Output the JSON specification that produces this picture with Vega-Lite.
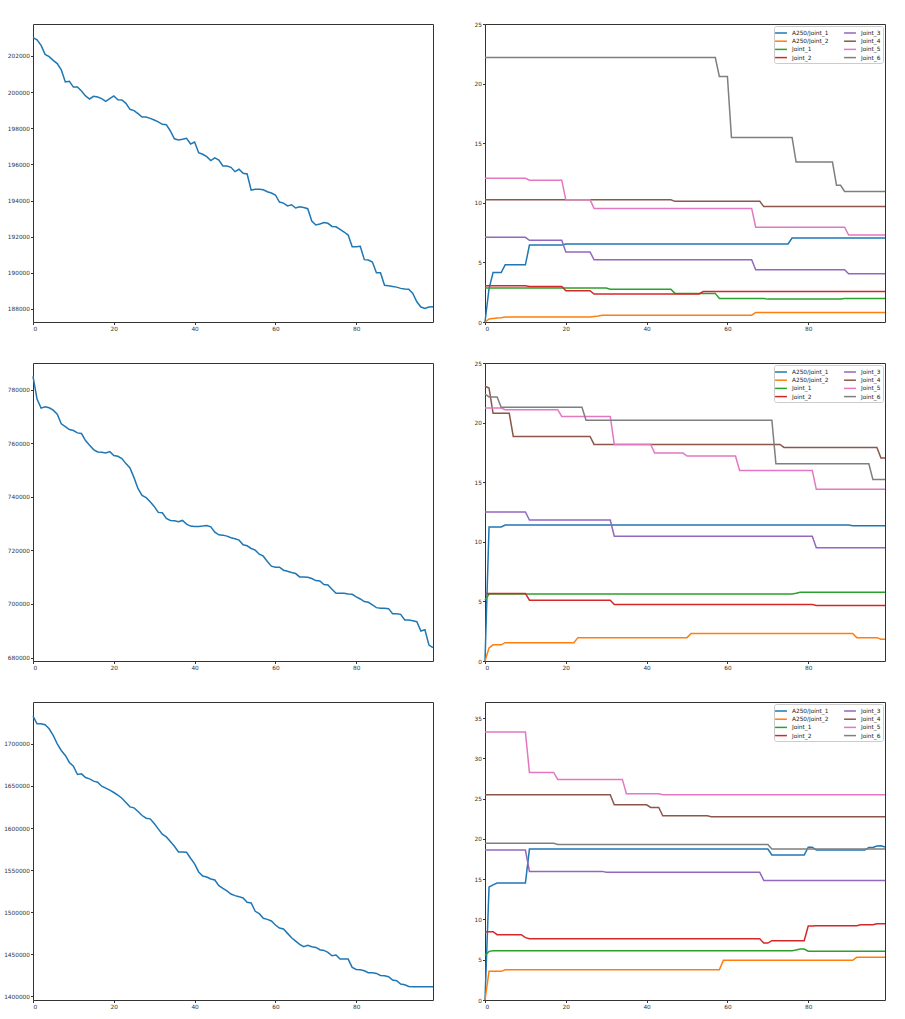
{
"$schema": "https://vega.github.io/schema/vega-lite/v6.json",
"padding": {"left": 3, "top": 20, "right": 5, "bottom": 5},
"background": "white",
"bounds": "flush",
"columns": 2,
"spacing": {"row": 41, "column": 52},
"resolve": {"scale": {"color": "independent"}, "legend": {"color": "independent"}},
"config": {
  "font": "DejaVu Sans",
  "view": {"stroke": "#333", "strokeWidth": 1},
  "axis": {"grid": false, "domain": false, "tickColor": "#333", "tickSize": 2.5, "labelFontSize": 5.8, "labelColor": "#333", "labelPadding": 1, "title": null, "labelFont": "DejaVu Sans"},
  "legend": {"orient": "top-right", "offset": 2, "columns": 2, "title": null, "fillColor": "white", "strokeColor": "#cccccc", "cornerRadius": 2, "padding": 2, "labelFontSize": 5.8, "labelFont": "DejaVu Sans", "labelColor": "#222", "symbolType": "M-1.4,0H1.4", "symbolSize": 72, "symbolStrokeWidth": 1.5, "labelOffset": 6, "rowPadding": 0.2, "columnPadding": 12}
},
"datasets": {
"loss": [
{"run":1,"step":0,"value":203020},{"run":1,"step":1,"value":202890},{"run":1,"step":2,"value":202590},{"run":1,"step":3,"value":202090},{"run":1,"step":4,"value":201960},{"run":1,"step":5,"value":201760},{"run":1,"step":6,"value":201580},{"run":1,"step":7,"value":201230},{"run":1,"step":8,"value":200560},{"run":1,"step":9,"value":200600},
{"run":1,"step":10,"value":200280},{"run":1,"step":11,"value":200280},{"run":1,"step":12,"value":200060},{"run":1,"step":13,"value":199790},{"run":1,"step":14,"value":199620},{"run":1,"step":15,"value":199770},{"run":1,"step":16,"value":199730},{"run":1,"step":17,"value":199640},{"run":1,"step":18,"value":199490},{"run":1,"step":19,"value":199640},
{"run":1,"step":20,"value":199790},{"run":1,"step":21,"value":199580},{"run":1,"step":22,"value":199570},{"run":1,"step":23,"value":199380},{"run":1,"step":24,"value":199050},{"run":1,"step":25,"value":198980},{"run":1,"step":26,"value":198810},{"run":1,"step":27,"value":198620},{"run":1,"step":28,"value":198620},{"run":1,"step":29,"value":198550},
{"run":1,"step":30,"value":198460},{"run":1,"step":31,"value":198350},{"run":1,"step":32,"value":198220},{"run":1,"step":33,"value":198200},{"run":1,"step":34,"value":197850},{"run":1,"step":35,"value":197420},{"run":1,"step":36,"value":197350},{"run":1,"step":37,"value":197390},{"run":1,"step":38,"value":197440},{"run":1,"step":39,"value":197130},
{"run":1,"step":40,"value":197240},{"run":1,"step":41,"value":196650},{"run":1,"step":42,"value":196560},{"run":1,"step":43,"value":196430},{"run":1,"step":44,"value":196210},{"run":1,"step":45,"value":196360},{"run":1,"step":46,"value":196240},{"run":1,"step":47,"value":195910},{"run":1,"step":48,"value":195910},{"run":1,"step":49,"value":195840},
{"run":1,"step":50,"value":195600},{"run":1,"step":51,"value":195730},{"run":1,"step":52,"value":195510},{"run":1,"step":53,"value":195470},{"run":1,"step":54,"value":194580},{"run":1,"step":55,"value":194620},{"run":1,"step":56,"value":194620},{"run":1,"step":57,"value":194600},{"run":1,"step":58,"value":194490},{"run":1,"step":59,"value":194420},
{"run":1,"step":60,"value":194310},{"run":1,"step":61,"value":193920},{"run":1,"step":62,"value":193860},{"run":1,"step":63,"value":193700},{"run":1,"step":64,"value":193770},{"run":1,"step":65,"value":193590},{"run":1,"step":66,"value":193660},{"run":1,"step":67,"value":193620},{"run":1,"step":68,"value":193550},{"run":1,"step":69,"value":192870},
{"run":1,"step":70,"value":192650},{"run":1,"step":71,"value":192700},{"run":1,"step":72,"value":192780},{"run":1,"step":73,"value":192740},{"run":1,"step":74,"value":192570},{"run":1,"step":75,"value":192550},{"run":1,"step":76,"value":192410},{"run":1,"step":77,"value":192260},{"run":1,"step":78,"value":192090},{"run":1,"step":79,"value":191450},
{"run":1,"step":80,"value":191450},{"run":1,"step":81,"value":191470},{"run":1,"step":82,"value":190730},{"run":1,"step":83,"value":190710},{"run":1,"step":84,"value":190600},{"run":1,"step":85,"value":190010},{"run":1,"step":86,"value":190010},{"run":1,"step":87,"value":189310},{"run":1,"step":88,"value":189290},{"run":1,"step":89,"value":189250},
{"run":1,"step":90,"value":189210},{"run":1,"step":91,"value":189140},{"run":1,"step":92,"value":189100},{"run":1,"step":93,"value":189090},{"run":1,"step":94,"value":188860},{"run":1,"step":95,"value":188400},{"run":1,"step":96,"value":188110},{"run":1,"step":97,"value":188030},{"run":1,"step":98,"value":188110},{"run":1,"step":99,"value":188130},
{"run":2,"step":0,"value":785000},{"run":2,"step":1,"value":776500},{"run":2,"step":2,"value":773140},{"run":2,"step":3,"value":773640},{"run":2,"step":4,"value":773260},{"run":2,"step":5,"value":772390},{"run":2,"step":6,"value":770890},{"run":2,"step":7,"value":767270},{"run":2,"step":8,"value":766270},{"run":2,"step":9,"value":765150},
{"run":2,"step":10,"value":764770},{"run":2,"step":11,"value":763900},{"run":2,"step":12,"value":763650},{"run":2,"step":13,"value":761030},{"run":2,"step":14,"value":759280},{"run":2,"step":15,"value":757660},{"run":2,"step":16,"value":756790},{"run":2,"step":17,"value":756660},{"run":2,"step":18,"value":756410},{"run":2,"step":19,"value":756910},
{"run":2,"step":20,"value":755410},{"run":2,"step":21,"value":755160},{"run":2,"step":22,"value":754290},{"run":2,"step":23,"value":752420},{"run":2,"step":24,"value":750800},{"run":2,"step":25,"value":747180},{"run":2,"step":26,"value":743060},{"run":2,"step":27,"value":740560},{"run":2,"step":28,"value":739690},{"run":2,"step":29,"value":738190},
{"run":2,"step":30,"value":736440},{"run":2,"step":31,"value":734200},{"run":2,"step":32,"value":734070},{"run":2,"step":33,"value":731950},{"run":2,"step":34,"value":731200},{"run":2,"step":35,"value":731080},{"run":2,"step":36,"value":730700},{"run":2,"step":37,"value":731200},{"run":2,"step":38,"value":729830},{"run":2,"step":39,"value":729080},
{"run":2,"step":40,"value":728960},{"run":2,"step":41,"value":728960},{"run":2,"step":42,"value":729080},{"run":2,"step":43,"value":729330},{"run":2,"step":44,"value":728830},{"run":2,"step":45,"value":726840},{"run":2,"step":46,"value":725840},{"run":2,"step":47,"value":725710},{"run":2,"step":48,"value":725340},{"run":2,"step":49,"value":724710},
{"run":2,"step":50,"value":724340},{"run":2,"step":51,"value":723840},{"run":2,"step":52,"value":722090},{"run":2,"step":53,"value":721720},{"run":2,"step":54,"value":720720},{"run":2,"step":55,"value":720100},{"run":2,"step":56,"value":718600},{"run":2,"step":57,"value":717850},{"run":2,"step":58,"value":715850},{"run":2,"step":59,"value":714110},
{"run":2,"step":60,"value":713730},{"run":2,"step":61,"value":713730},{"run":2,"step":62,"value":712610},{"run":2,"step":63,"value":712230},{"run":2,"step":64,"value":711740},{"run":2,"step":65,"value":711360},{"run":2,"step":66,"value":710110},{"run":2,"step":67,"value":710110},{"run":2,"step":68,"value":709990},{"run":2,"step":69,"value":709490},
{"run":2,"step":70,"value":708740},{"run":2,"step":71,"value":708610},{"run":2,"step":72,"value":707240},{"run":2,"step":73,"value":707120},{"run":2,"step":74,"value":705500},{"run":2,"step":75,"value":704000},{"run":2,"step":76,"value":704000},{"run":2,"step":77,"value":704000},{"run":2,"step":78,"value":703750},{"run":2,"step":79,"value":703620},
{"run":2,"step":80,"value":702620},{"run":2,"step":81,"value":701870},{"run":2,"step":82,"value":700880},{"run":2,"step":83,"value":700630},{"run":2,"step":84,"value":699630},{"run":2,"step":85,"value":698630},{"run":2,"step":86,"value":698380},{"run":2,"step":87,"value":698380},{"run":2,"step":88,"value":698260},{"run":2,"step":89,"value":696380},
{"run":2,"step":90,"value":696380},{"run":2,"step":91,"value":696130},{"run":2,"step":92,"value":694010},{"run":2,"step":93,"value":694010},{"run":2,"step":94,"value":693760},{"run":2,"step":95,"value":693390},{"run":2,"step":96,"value":689890},{"run":2,"step":97,"value":690390},{"run":2,"step":98,"value":684650},{"run":2,"step":99,"value":683650},
{"run":3,"step":0,"value":1732900},{"run":3,"step":1,"value":1723780},{"run":3,"step":2,"value":1723780},{"run":3,"step":3,"value":1722590},{"run":3,"step":4,"value":1717830},{"run":3,"step":5,"value":1709900},{"run":3,"step":6,"value":1700000},{"run":3,"step":7,"value":1692070},{"run":3,"step":8,"value":1686130},{"run":3,"step":9,"value":1677810},
{"run":3,"step":10,"value":1673450},{"run":3,"step":11,"value":1663540},{"run":3,"step":12,"value":1664330},{"run":3,"step":13,"value":1659970},{"run":3,"step":14,"value":1658390},{"run":3,"step":15,"value":1655610},{"run":3,"step":16,"value":1654430},{"run":3,"step":17,"value":1649670},{"run":3,"step":18,"value":1647290},{"run":3,"step":19,"value":1644910},
{"run":3,"step":20,"value":1642140},{"run":3,"step":21,"value":1638970},{"run":3,"step":22,"value":1635400},{"run":3,"step":23,"value":1630250},{"run":3,"step":24,"value":1625100},{"run":3,"step":25,"value":1623910},{"run":3,"step":26,"value":1619550},{"run":3,"step":27,"value":1614800},{"run":3,"step":28,"value":1611630},{"run":3,"step":29,"value":1610830},
{"run":3,"step":30,"value":1605280},{"run":3,"step":31,"value":1598940},{"run":3,"step":32,"value":1592600},{"run":3,"step":33,"value":1589430},{"run":3,"step":34,"value":1583890},{"run":3,"step":35,"value":1578340},{"run":3,"step":36,"value":1571600},{"run":3,"step":37,"value":1571600},{"run":3,"step":38,"value":1571200},{"run":3,"step":39,"value":1564080},
{"run":3,"step":40,"value":1557340},{"run":3,"step":41,"value":1547830},{"run":3,"step":42,"value":1543070},{"run":3,"step":43,"value":1541880},{"run":3,"step":44,"value":1539500},{"run":3,"step":45,"value":1538320},{"run":3,"step":46,"value":1531580},{"run":3,"step":47,"value":1528410},{"run":3,"step":48,"value":1525240},{"run":3,"step":49,"value":1521670},
{"run":3,"step":50,"value":1519690},{"run":3,"step":51,"value":1518500},{"run":3,"step":52,"value":1516920},{"run":3,"step":53,"value":1511770},{"run":3,"step":54,"value":1510980},{"run":3,"step":55,"value":1501070},{"run":3,"step":56,"value":1498300},{"run":3,"step":57,"value":1492750},{"run":3,"step":58,"value":1491560},{"run":3,"step":59,"value":1489580},
{"run":3,"step":60,"value":1484810},{"run":3,"step":61,"value":1481250},{"run":3,"step":62,"value":1480060},{"run":3,"step":63,"value":1474900},{"run":3,"step":64,"value":1469750},{"run":3,"step":65,"value":1465790},{"run":3,"step":66,"value":1461830},{"run":3,"step":67,"value":1459050},{"run":3,"step":68,"value":1460640},{"run":3,"step":69,"value":1459050},
{"run":3,"step":70,"value":1458260},{"run":3,"step":71,"value":1455490},{"run":3,"step":72,"value":1454700},{"run":3,"step":73,"value":1452320},{"run":3,"step":74,"value":1448360},{"run":3,"step":75,"value":1449150},{"run":3,"step":76,"value":1444390},{"run":3,"step":77,"value":1444390},{"run":3,"step":78,"value":1444390},{"run":3,"step":79,"value":1434480},
{"run":3,"step":80,"value":1432110},{"run":3,"step":81,"value":1431710},{"run":3,"step":82,"value":1430520},{"run":3,"step":83,"value":1428140},{"run":3,"step":84,"value":1428140},{"run":3,"step":85,"value":1427350},{"run":3,"step":86,"value":1424970},{"run":3,"step":87,"value":1424580},{"run":3,"step":88,"value":1423390},{"run":3,"step":89,"value":1419430},
{"run":3,"step":90,"value":1418640},{"run":3,"step":91,"value":1414670},{"run":3,"step":92,"value":1413880},{"run":3,"step":93,"value":1411900},{"run":3,"step":94,"value":1411500},{"run":3,"step":95,"value":1411500},{"run":3,"step":96,"value":1411500},{"run":3,"step":97,"value":1411500},{"run":3,"step":98,"value":1411500},{"run":3,"step":99,"value":1411500}
],
"joints": [
{"run":1,"joint":"A250/Joint_1","step":0,"value":0},{"run":1,"joint":"A250/Joint_1","step":1,"value":2.8},{"run":1,"joint":"A250/Joint_1","step":2,"value":4.15},{"run":1,"joint":"A250/Joint_1","step":4,"value":4.15},{"run":1,"joint":"A250/Joint_1","step":5,"value":4.8},{"run":1,"joint":"A250/Joint_1","step":10,"value":4.8},{"run":1,"joint":"A250/Joint_1","step":11,"value":6.45},{"run":1,"joint":"A250/Joint_1","step":19,"value":6.45},{"run":1,"joint":"A250/Joint_1","step":20,"value":6.55},{"run":1,"joint":"A250/Joint_1","step":75,"value":6.55},{"run":1,"joint":"A250/Joint_1","step":76,"value":7.05},{"run":1,"joint":"A250/Joint_1","step":99,"value":7.05},
{"run":1,"joint":"A250/Joint_2","step":0,"value":0},{"run":1,"joint":"A250/Joint_2","step":1,"value":0.25},{"run":1,"joint":"A250/Joint_2","step":2,"value":0.3},{"run":1,"joint":"A250/Joint_2","step":3,"value":0.33},{"run":1,"joint":"A250/Joint_2","step":4,"value":0.35},{"run":1,"joint":"A250/Joint_2","step":5,"value":0.42},{"run":1,"joint":"A250/Joint_2","step":26,"value":0.42},{"run":1,"joint":"A250/Joint_2","step":27,"value":0.47},{"run":1,"joint":"A250/Joint_2","step":28,"value":0.5},{"run":1,"joint":"A250/Joint_2","step":29,"value":0.57},{"run":1,"joint":"A250/Joint_2","step":66,"value":0.57},{"run":1,"joint":"A250/Joint_2","step":67,"value":0.8},{"run":1,"joint":"A250/Joint_2","step":99,"value":0.8},
{"run":1,"joint":"Joint_1","step":0,"value":2.85},{"run":1,"joint":"Joint_1","step":30,"value":2.85},{"run":1,"joint":"Joint_1","step":31,"value":2.75},{"run":1,"joint":"Joint_1","step":46,"value":2.75},{"run":1,"joint":"Joint_1","step":47,"value":2.4},{"run":1,"joint":"Joint_1","step":57,"value":2.4},{"run":1,"joint":"Joint_1","step":58,"value":1.98},{"run":1,"joint":"Joint_1","step":69,"value":1.98},{"run":1,"joint":"Joint_1","step":70,"value":1.92},{"run":1,"joint":"Joint_1","step":88,"value":1.92},{"run":1,"joint":"Joint_1","step":89,"value":1.97},{"run":1,"joint":"Joint_1","step":99,"value":1.97},
{"run":1,"joint":"Joint_2","step":0,"value":3.05},{"run":1,"joint":"Joint_2","step":10,"value":3.05},{"run":1,"joint":"Joint_2","step":11,"value":2.98},{"run":1,"joint":"Joint_2","step":19,"value":2.98},{"run":1,"joint":"Joint_2","step":20,"value":2.63},{"run":1,"joint":"Joint_2","step":26,"value":2.63},{"run":1,"joint":"Joint_2","step":27,"value":2.35},{"run":1,"joint":"Joint_2","step":53,"value":2.35},{"run":1,"joint":"Joint_2","step":54,"value":2.55},{"run":1,"joint":"Joint_2","step":99,"value":2.55},
{"run":1,"joint":"Joint_3","step":0,"value":7.1},{"run":1,"joint":"Joint_3","step":10,"value":7.1},{"run":1,"joint":"Joint_3","step":11,"value":6.85},{"run":1,"joint":"Joint_3","step":19,"value":6.85},{"run":1,"joint":"Joint_3","step":20,"value":5.87},{"run":1,"joint":"Joint_3","step":26,"value":5.87},{"run":1,"joint":"Joint_3","step":27,"value":5.22},{"run":1,"joint":"Joint_3","step":66,"value":5.22},{"run":1,"joint":"Joint_3","step":67,"value":4.38},{"run":1,"joint":"Joint_3","step":89,"value":4.38},{"run":1,"joint":"Joint_3","step":90,"value":4.05},{"run":1,"joint":"Joint_3","step":99,"value":4.05},
{"run":1,"joint":"Joint_4","step":0,"value":10.25},{"run":1,"joint":"Joint_4","step":46,"value":10.25},{"run":1,"joint":"Joint_4","step":47,"value":10.12},{"run":1,"joint":"Joint_4","step":68,"value":10.12},{"run":1,"joint":"Joint_4","step":69,"value":9.68},{"run":1,"joint":"Joint_4","step":99,"value":9.68},
{"run":1,"joint":"Joint_5","step":0,"value":12.05},{"run":1,"joint":"Joint_5","step":10,"value":12.05},{"run":1,"joint":"Joint_5","step":11,"value":11.9},{"run":1,"joint":"Joint_5","step":19,"value":11.9},{"run":1,"joint":"Joint_5","step":20,"value":10.25},{"run":1,"joint":"Joint_5","step":26,"value":10.25},{"run":1,"joint":"Joint_5","step":27,"value":9.53},{"run":1,"joint":"Joint_5","step":66,"value":9.53},{"run":1,"joint":"Joint_5","step":67,"value":7.95},{"run":1,"joint":"Joint_5","step":89,"value":7.95},{"run":1,"joint":"Joint_5","step":90,"value":7.3},{"run":1,"joint":"Joint_5","step":99,"value":7.3},
{"run":1,"joint":"Joint_6","step":0,"value":22.18},{"run":1,"joint":"Joint_6","step":57,"value":22.18},{"run":1,"joint":"Joint_6","step":58,"value":20.6},{"run":1,"joint":"Joint_6","step":60,"value":20.6},{"run":1,"joint":"Joint_6","step":61,"value":15.48},{"run":1,"joint":"Joint_6","step":76,"value":15.48},{"run":1,"joint":"Joint_6","step":77,"value":13.42},{"run":1,"joint":"Joint_6","step":86,"value":13.42},{"run":1,"joint":"Joint_6","step":87,"value":11.47},{"run":1,"joint":"Joint_6","step":88,"value":11.47},{"run":1,"joint":"Joint_6","step":89,"value":10.95},{"run":1,"joint":"Joint_6","step":99,"value":10.95},
{"run":2,"joint":"A250/Joint_1","step":0,"value":0},{"run":2,"joint":"A250/Joint_1","step":1,"value":11.25},{"run":2,"joint":"A250/Joint_1","step":4,"value":11.25},{"run":2,"joint":"A250/Joint_1","step":5,"value":11.4},{"run":2,"joint":"A250/Joint_1","step":90,"value":11.4},{"run":2,"joint":"A250/Joint_1","step":91,"value":11.35},{"run":2,"joint":"A250/Joint_1","step":99,"value":11.35},
{"run":2,"joint":"A250/Joint_2","step":0,"value":0},{"run":2,"joint":"A250/Joint_2","step":1,"value":1.1},{"run":2,"joint":"A250/Joint_2","step":2,"value":1.36},{"run":2,"joint":"A250/Joint_2","step":4,"value":1.36},{"run":2,"joint":"A250/Joint_2","step":5,"value":1.54},{"run":2,"joint":"A250/Joint_2","step":22,"value":1.54},{"run":2,"joint":"A250/Joint_2","step":23,"value":1.96},{"run":2,"joint":"A250/Joint_2","step":50,"value":1.96},{"run":2,"joint":"A250/Joint_2","step":51,"value":2.3},{"run":2,"joint":"A250/Joint_2","step":91,"value":2.3},{"run":2,"joint":"A250/Joint_2","step":92,"value":1.96},{"run":2,"joint":"A250/Joint_2","step":97,"value":1.96},{"run":2,"joint":"A250/Joint_2","step":98,"value":1.82},{"run":2,"joint":"A250/Joint_2","step":99,"value":1.82},
{"run":2,"joint":"Joint_1","step":0,"value":5.1},{"run":2,"joint":"Joint_1","step":1,"value":5.62},{"run":2,"joint":"Joint_1","step":76,"value":5.62},{"run":2,"joint":"Joint_1","step":77,"value":5.68},{"run":2,"joint":"Joint_1","step":78,"value":5.76},{"run":2,"joint":"Joint_1","step":99,"value":5.76},
{"run":2,"joint":"Joint_2","step":0,"value":5.67},{"run":2,"joint":"Joint_2","step":10,"value":5.67},{"run":2,"joint":"Joint_2","step":11,"value":5.1},{"run":2,"joint":"Joint_2","step":31,"value":5.1},{"run":2,"joint":"Joint_2","step":32,"value":4.73},{"run":2,"joint":"Joint_2","step":81,"value":4.73},{"run":2,"joint":"Joint_2","step":82,"value":4.65},{"run":2,"joint":"Joint_2","step":99,"value":4.65},
{"run":2,"joint":"Joint_3","step":0,"value":12.5},{"run":2,"joint":"Joint_3","step":10,"value":12.5},{"run":2,"joint":"Joint_3","step":11,"value":11.83},{"run":2,"joint":"Joint_3","step":31,"value":11.83},{"run":2,"joint":"Joint_3","step":32,"value":10.47},{"run":2,"joint":"Joint_3","step":81,"value":10.47},{"run":2,"joint":"Joint_3","step":82,"value":9.5},{"run":2,"joint":"Joint_3","step":99,"value":9.5},
{"run":2,"joint":"Joint_4","step":0,"value":23.05},{"run":2,"joint":"Joint_4","step":1,"value":22.9},{"run":2,"joint":"Joint_4","step":2,"value":20.78},{"run":2,"joint":"Joint_4","step":6,"value":20.78},{"run":2,"joint":"Joint_4","step":7,"value":18.84},{"run":2,"joint":"Joint_4","step":26,"value":18.84},{"run":2,"joint":"Joint_4","step":27,"value":18.17},{"run":2,"joint":"Joint_4","step":73,"value":18.17},{"run":2,"joint":"Joint_4","step":74,"value":17.92},{"run":2,"joint":"Joint_4","step":97,"value":17.92},{"run":2,"joint":"Joint_4","step":98,"value":17.02},{"run":2,"joint":"Joint_4","step":99,"value":17.02},
{"run":2,"joint":"Joint_5","step":0,"value":21.22},{"run":2,"joint":"Joint_5","step":4,"value":21.22},{"run":2,"joint":"Joint_5","step":5,"value":21.08},{"run":2,"joint":"Joint_5","step":18,"value":21.08},{"run":2,"joint":"Joint_5","step":19,"value":20.52},{"run":2,"joint":"Joint_5","step":31,"value":20.52},{"run":2,"joint":"Joint_5","step":32,"value":18.17},{"run":2,"joint":"Joint_5","step":41,"value":18.17},{"run":2,"joint":"Joint_5","step":42,"value":17.44},{"run":2,"joint":"Joint_5","step":49,"value":17.44},{"run":2,"joint":"Joint_5","step":50,"value":17.19},{"run":2,"joint":"Joint_5","step":62,"value":17.19},{"run":2,"joint":"Joint_5","step":63,"value":15.99},{"run":2,"joint":"Joint_5","step":81,"value":15.99},{"run":2,"joint":"Joint_5","step":82,"value":14.4},{"run":2,"joint":"Joint_5","step":99,"value":14.4},
{"run":2,"joint":"Joint_6","step":0,"value":22.4},{"run":2,"joint":"Joint_6","step":1,"value":22.15},{"run":2,"joint":"Joint_6","step":3,"value":22.15},{"run":2,"joint":"Joint_6","step":4,"value":21.28},{"run":2,"joint":"Joint_6","step":24,"value":21.28},{"run":2,"joint":"Joint_6","step":25,"value":20.2},{"run":2,"joint":"Joint_6","step":71,"value":20.2},{"run":2,"joint":"Joint_6","step":72,"value":16.55},{"run":2,"joint":"Joint_6","step":95,"value":16.55},{"run":2,"joint":"Joint_6","step":96,"value":15.23},{"run":2,"joint":"Joint_6","step":99,"value":15.23},
{"run":3,"joint":"A250/Joint_1","step":0,"value":0},{"run":3,"joint":"A250/Joint_1","step":1,"value":14.03},{"run":3,"joint":"A250/Joint_1","step":2,"value":14.3},{"run":3,"joint":"A250/Joint_1","step":3,"value":14.52},{"run":3,"joint":"A250/Joint_1","step":10,"value":14.52},{"run":3,"joint":"A250/Joint_1","step":11,"value":18.74},{"run":3,"joint":"A250/Joint_1","step":70,"value":18.74},{"run":3,"joint":"A250/Joint_1","step":71,"value":18.0},{"run":3,"joint":"A250/Joint_1","step":79,"value":18.0},{"run":3,"joint":"A250/Joint_1","step":80,"value":18.97},{"run":3,"joint":"A250/Joint_1","step":81,"value":18.97},{"run":3,"joint":"A250/Joint_1","step":82,"value":18.62},{"run":3,"joint":"A250/Joint_1","step":94,"value":18.62},{"run":3,"joint":"A250/Joint_1","step":95,"value":18.95},{"run":3,"joint":"A250/Joint_1","step":96,"value":18.95},{"run":3,"joint":"A250/Joint_1","step":97,"value":19.12},{"run":3,"joint":"A250/Joint_1","step":98,"value":19.15},{"run":3,"joint":"A250/Joint_1","step":99,"value":19.0},
{"run":3,"joint":"A250/Joint_2","step":0,"value":0},{"run":3,"joint":"A250/Joint_2","step":1,"value":3.56},{"run":3,"joint":"A250/Joint_2","step":4,"value":3.56},{"run":3,"joint":"A250/Joint_2","step":5,"value":3.76},{"run":3,"joint":"A250/Joint_2","step":58,"value":3.76},{"run":3,"joint":"A250/Joint_2","step":59,"value":4.92},{"run":3,"joint":"A250/Joint_2","step":91,"value":4.92},{"run":3,"joint":"A250/Joint_2","step":92,"value":5.3},{"run":3,"joint":"A250/Joint_2","step":99,"value":5.3},
{"run":3,"joint":"Joint_1","step":0,"value":5.54},{"run":3,"joint":"Joint_1","step":1,"value":6.04},{"run":3,"joint":"Joint_1","step":2,"value":6.12},{"run":3,"joint":"Joint_1","step":76,"value":6.12},{"run":3,"joint":"Joint_1","step":77,"value":6.2},{"run":3,"joint":"Joint_1","step":78,"value":6.33},{"run":3,"joint":"Joint_1","step":79,"value":6.33},{"run":3,"joint":"Joint_1","step":80,"value":6.06},{"run":3,"joint":"Joint_1","step":99,"value":6.06},
{"run":3,"joint":"Joint_2","step":0,"value":8.48},{"run":3,"joint":"Joint_2","step":2,"value":8.48},{"run":3,"joint":"Joint_2","step":3,"value":8.11},{"run":3,"joint":"Joint_2","step":9,"value":8.11},{"run":3,"joint":"Joint_2","step":10,"value":7.74},{"run":3,"joint":"Joint_2","step":11,"value":7.6},{"run":3,"joint":"Joint_2","step":68,"value":7.6},{"run":3,"joint":"Joint_2","step":69,"value":7.07},{"run":3,"joint":"Joint_2","step":70,"value":7.07},{"run":3,"joint":"Joint_2","step":71,"value":7.36},{"run":3,"joint":"Joint_2","step":79,"value":7.36},{"run":3,"joint":"Joint_2","step":80,"value":9.18},{"run":3,"joint":"Joint_2","step":81,"value":9.18},{"run":3,"joint":"Joint_2","step":82,"value":9.22},{"run":3,"joint":"Joint_2","step":92,"value":9.22},{"run":3,"joint":"Joint_2","step":93,"value":9.35},{"run":3,"joint":"Joint_2","step":96,"value":9.35},{"run":3,"joint":"Joint_2","step":97,"value":9.47},{"run":3,"joint":"Joint_2","step":99,"value":9.47},
{"run":3,"joint":"Joint_3","step":0,"value":18.62},{"run":3,"joint":"Joint_3","step":10,"value":18.62},{"run":3,"joint":"Joint_3","step":11,"value":15.97},{"run":3,"joint":"Joint_3","step":29,"value":15.97},{"run":3,"joint":"Joint_3","step":30,"value":15.85},{"run":3,"joint":"Joint_3","step":68,"value":15.85},{"run":3,"joint":"Joint_3","step":69,"value":14.85},{"run":3,"joint":"Joint_3","step":99,"value":14.85},
{"run":3,"joint":"Joint_4","step":0,"value":25.49},{"run":3,"joint":"Joint_4","step":31,"value":25.49},{"run":3,"joint":"Joint_4","step":32,"value":24.24},{"run":3,"joint":"Joint_4","step":40,"value":24.24},{"run":3,"joint":"Joint_4","step":41,"value":23.91},{"run":3,"joint":"Joint_4","step":43,"value":23.91},{"run":3,"joint":"Joint_4","step":44,"value":22.88},{"run":3,"joint":"Joint_4","step":55,"value":22.88},{"run":3,"joint":"Joint_4","step":56,"value":22.76},{"run":3,"joint":"Joint_4","step":99,"value":22.76},
{"run":3,"joint":"Joint_5","step":0,"value":33.26},{"run":3,"joint":"Joint_5","step":10,"value":33.26},{"run":3,"joint":"Joint_5","step":11,"value":28.26},{"run":3,"joint":"Joint_5","step":17,"value":28.26},{"run":3,"joint":"Joint_5","step":18,"value":27.39},{"run":3,"joint":"Joint_5","step":34,"value":27.39},{"run":3,"joint":"Joint_5","step":35,"value":25.61},{"run":3,"joint":"Joint_5","step":43,"value":25.61},{"run":3,"joint":"Joint_5","step":44,"value":25.49},{"run":3,"joint":"Joint_5","step":99,"value":25.49},
{"run":3,"joint":"Joint_6","step":0,"value":19.45},{"run":3,"joint":"Joint_6","step":17,"value":19.45},{"run":3,"joint":"Joint_6","step":18,"value":19.32},{"run":3,"joint":"Joint_6","step":70,"value":19.32},{"run":3,"joint":"Joint_6","step":71,"value":18.74},{"run":3,"joint":"Joint_6","step":99,"value":18.74}
]
},
"concat": [
{"width": 400, "height": 298, "data": {"name": "loss"}, "transform": [{"filter": "datum.run == 1"}],
 "mark": {"type": "line", "color": "#1f77b4", "strokeWidth": 1.5},
 "encoding": {
  "x": {"field": "step", "type": "quantitative", "scale": {"domain": [0, 99], "nice": false}, "axis": {"values": [0, 20, 40, 60, 80]}},
  "y": {"field": "value", "type": "quantitative", "scale": {"domain": [187280, 203770], "nice": false, "zero": false}, "axis": {"values": [188000, 190000, 192000, 194000, 196000, 198000, 200000, 202000], "format": "d"}}}},
{"width": 400, "height": 298, "data": {"name": "joints"}, "transform": [{"filter": "datum.run == 1"}],
 "mark": {"type": "line", "strokeWidth": 1.5},
 "encoding": {
  "x": {"field": "step", "type": "quantitative", "scale": {"domain": [0, 99], "nice": false}, "axis": {"values": [0, 20, 40, 60, 80]}},
  "y": {"field": "value", "type": "quantitative", "scale": {"domain": [0, 25], "nice": false}, "axis": {"values": [0, 5, 10, 15, 20, 25]}},
  "color": {"field": "joint", "type": "nominal", "scale": {"domain": ["A250/Joint_1", "A250/Joint_2", "Joint_1", "Joint_2", "Joint_3", "Joint_4", "Joint_5", "Joint_6"], "range": ["#1f77b4", "#ff7f0e", "#2ca02c", "#d62728", "#9467bd", "#8c564b", "#e377c2", "#7f7f7f"]}}}},
{"width": 400, "height": 298, "data": {"name": "loss"}, "transform": [{"filter": "datum.run == 2"}],
 "mark": {"type": "line", "color": "#1f77b4", "strokeWidth": 1.5},
 "encoding": {
  "x": {"field": "step", "type": "quantitative", "scale": {"domain": [0, 99], "nice": false}, "axis": {"values": [0, 20, 40, 60, 80]}},
  "y": {"field": "value", "type": "quantitative", "scale": {"domain": [678700, 790000], "nice": false, "zero": false}, "axis": {"values": [680000, 700000, 720000, 740000, 760000, 780000], "format": "d"}}}},
{"width": 400, "height": 298, "data": {"name": "joints"}, "transform": [{"filter": "datum.run == 2"}],
 "mark": {"type": "line", "strokeWidth": 1.5},
 "encoding": {
  "x": {"field": "step", "type": "quantitative", "scale": {"domain": [0, 99], "nice": false}, "axis": {"values": [0, 20, 40, 60, 80]}},
  "y": {"field": "value", "type": "quantitative", "scale": {"domain": [0, 25], "nice": false}, "axis": {"values": [0, 5, 10, 15, 20, 25]}},
  "color": {"field": "joint", "type": "nominal", "scale": {"domain": ["A250/Joint_1", "A250/Joint_2", "Joint_1", "Joint_2", "Joint_3", "Joint_4", "Joint_5", "Joint_6"], "range": ["#1f77b4", "#ff7f0e", "#2ca02c", "#d62728", "#9467bd", "#8c564b", "#e377c2", "#7f7f7f"]}}}},
{"width": 400, "height": 298, "data": {"name": "loss"}, "transform": [{"filter": "datum.run == 3"}],
 "mark": {"type": "line", "color": "#1f77b4", "strokeWidth": 1.5},
 "encoding": {
  "x": {"field": "step", "type": "quantitative", "scale": {"domain": [0, 99], "nice": false}, "axis": {"values": [0, 20, 40, 60, 80]}},
  "y": {"field": "value", "type": "quantitative", "scale": {"domain": [1395800, 1749600], "nice": false, "zero": false}, "axis": {"values": [1400000, 1450000, 1500000, 1550000, 1600000, 1650000, 1700000], "format": "d"}}}},
{"width": 400, "height": 298, "data": {"name": "joints"}, "transform": [{"filter": "datum.run == 3"}],
 "mark": {"type": "line", "strokeWidth": 1.5},
 "encoding": {
  "x": {"field": "step", "type": "quantitative", "scale": {"domain": [0, 99], "nice": false}, "axis": {"values": [0, 20, 40, 60, 80]}},
  "y": {"field": "value", "type": "quantitative", "scale": {"domain": [0, 37], "nice": false}, "axis": {"values": [0, 5, 10, 15, 20, 25, 30, 35]}},
  "color": {"field": "joint", "type": "nominal", "scale": {"domain": ["A250/Joint_1", "A250/Joint_2", "Joint_1", "Joint_2", "Joint_3", "Joint_4", "Joint_5", "Joint_6"], "range": ["#1f77b4", "#ff7f0e", "#2ca02c", "#d62728", "#9467bd", "#8c564b", "#e377c2", "#7f7f7f"]}}}}
]
}
